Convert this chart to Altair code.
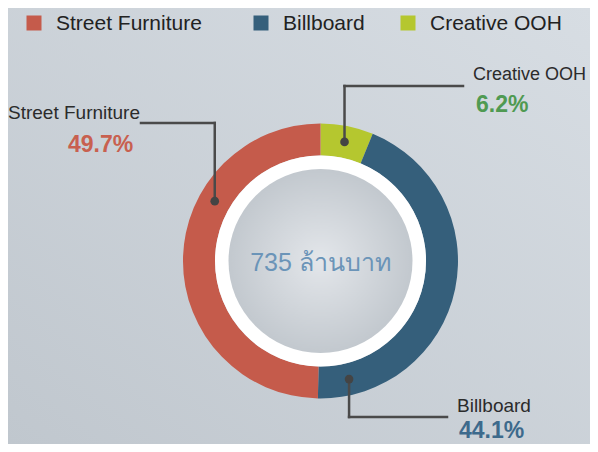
import math
import altair as alt
import pandas as pd

# ---------------- data ----------------
categories = ["Creative OOH", "Billboard", "Street Furniture"]
shares = [6.2, 44.1, 49.7]
seg_colors = ["#b5c72f", "#355f7b", "#c55b4b"]
pct_colors = ["#4f9a52", "#3d6a8c", "#c8604f"]
legend_order = ["Street Furniture", "Billboard", "Creative OOH"]
center_label = "735 ล้านบาท"

# ---------------- layout (pixels inside the chart) ----------------
W, H = 582, 436
CX, CY = 312.5, 253.0
R_OUT, R_IN, R_WHITE, R_CORE = 137.5, 105.5, 105.5, 92.0
FONT = "Liberation Sans, Arial, Noto Sans, sans-serif"
FULL = 2 * math.pi

# callout geometry per category: dot angle (deg, clockwise from top), elbow y, line end x,
# label anchor (+font size), percentage anchor
callout = {
    "Creative OOH":     dict(ang=11.4,  elbow_y=78,  end_x=455, lx=465, ly=58,  fs=18, px=468, py=85.5),
    "Billboard":        dict(ang=166.4, elbow_y=409, end_x=439, lx=449, ly=389, fs=19, px=451, py=412),
    "Street Furniture": dict(ang=299.5, elbow_y=115, end_x=133, lx=0,   ly=95.5, fs=19, px=60,  py=125.5),
}
legend_x = {"Street Furniture": 26, "Billboard": 253, "Creative OOH": 400}
LEGEND_Y = 15
R_DOT = 121.5

pct_of = dict(zip(categories, shares))

seg_df = pd.DataFrame({"category": categories, "share": shares,
                       "idx": list(range(len(categories)))})

# ---------------- background ----------------
bg = alt.Chart(pd.DataFrame({"a": [0]})).mark_rect(
    fill=alt.LinearGradient(
        gradient="linear", x1=1, y1=0, x2=0, y2=1,
        stops=[alt.GradientStop(offset=0, color="#d7dde3"),
               alt.GradientStop(offset=1, color="#c0c7ce")]),
    strokeWidth=0,
).encode(x=alt.value(0), x2=alt.value(W), y=alt.value(0), y2=alt.value(H))

# ---------------- donut ----------------
donut = alt.Chart(seg_df).mark_arc(
    radius=R_OUT, radius2=R_IN, x=CX, y=CY, strokeWidth=0
).encode(
    theta=alt.Theta("share:Q", stack=True),
    order=alt.Order("idx:Q"),
    color=alt.Color("category:N",
                    scale=alt.Scale(domain=categories, range=seg_colors),
                    legend=None),
)

one = pd.DataFrame({"v": [1]})
white = alt.Chart(one).mark_arc(radius=R_WHITE, radius2=0, x=CX, y=CY,
                                fill="#ffffff", strokeWidth=0).encode(
    theta=alt.value(0), theta2=alt.value(FULL))
core = alt.Chart(one).mark_arc(
    radius=R_CORE, radius2=0, x=CX, y=CY, strokeWidth=0,
    fill=alt.RadialGradient(
        gradient="radial", x1=0.5, y1=0.5, x2=0.5, y2=0.5, r1=0, r2=0.5,
        stops=[alt.GradientStop(offset=0, color="#e3e6ea"),
               alt.GradientStop(offset=1, color="#c2c8ce")]),
).encode(theta=alt.value(0), theta2=alt.value(FULL))

center_txt = alt.Chart(pd.DataFrame({"t": [center_label]})).mark_text(
    x=CX, y=CY + 2, font=FONT, fontSize=25, color="#6b94b8", align="center",
    baseline="middle", fontWeight=300,
).encode(text="t:N")

# ---------------- callouts ----------------
rows_seg, rows_dot, rows_lab, rows_pct = [], [], [], []
for cat in categories:
    c = callout[cat]
    a = math.radians(c["ang"])
    dx = CX + R_DOT * math.sin(a)
    dy = CY - R_DOT * math.cos(a)
    rows_dot.append({"x": dx, "y": dy})
    rows_seg.append({"x": dx, "y": dy, "x2": dx, "y2": c["elbow_y"]})
    rows_seg.append({"x": dx, "y": c["elbow_y"], "x2": c["end_x"], "y2": c["elbow_y"]})
    rows_lab.append({"x": c["lx"], "y": c["ly"], "t": cat, "fs": c["fs"]})
    rows_pct.append({"x": c["px"], "y": c["py"], "t": f"{pct_of[cat]:.1f}%", "cat": cat})

lines = alt.Chart(pd.DataFrame(rows_seg)).mark_rule(
    color="#4a4a4a", strokeWidth=2.5, strokeCap="square"
).encode(
    x=alt.X("x:Q", scale=None, axis=None), y=alt.Y("y:Q", scale=None, axis=None),
    x2="x2:Q", y2="y2:Q",
)
dots = alt.Chart(pd.DataFrame(rows_dot)).mark_point(
    shape="circle", filled=True, color="#444444", size=75, opacity=1
).encode(x=alt.X("x:Q", scale=None), y=alt.Y("y:Q", scale=None))

labels = alt.Chart(pd.DataFrame(rows_lab)).mark_text(
    font=FONT, color="#2b2b2b", align="left", baseline="top"
).encode(x=alt.X("x:Q", scale=None), y=alt.Y("y:Q", scale=None), text="t:N",
         size=alt.Size("fs:Q", scale=None, legend=None))

pcts = alt.Chart(pd.DataFrame(rows_pct)).mark_text(
    font=FONT, fontSize=23, fontWeight="bold", align="left", baseline="top"
).encode(
    x=alt.X("x:Q", scale=None), y=alt.Y("y:Q", scale=None), text="t:N",
    color=alt.Color("cat:N", scale=alt.Scale(domain=categories, range=pct_colors),
                    legend=None),
)

# ---------------- legend (manual) ----------------
leg_df = pd.DataFrame({"cat": legend_order,
                       "x": [legend_x[c] for c in legend_order],
                       "y": [LEGEND_Y] * 3})
leg_df["tx"] = leg_df["x"] + 22
leg_sq = alt.Chart(leg_df).mark_square(size=225, filled=True, opacity=1).encode(
    x=alt.X("x:Q", scale=None), y=alt.Y("y:Q", scale=None),
    color=alt.Color("cat:N", scale=alt.Scale(domain=categories, range=seg_colors),
                    legend=None),
)
leg_tx = alt.Chart(leg_df).mark_text(
    font=FONT, fontSize=21, color="#222222", align="left", baseline="middle", dy=1
).encode(x=alt.X("tx:Q", scale=None), y=alt.Y("y:Q", scale=None), text="cat:N")

chart = alt.layer(
    bg, donut, white, core, center_txt, lines, dots, labels, pcts, leg_sq, leg_tx
).resolve_scale(color="independent").properties(
    width=W, height=H, padding=0, autosize=alt.AutoSizeParams(type="none")
).configure_view(stroke=None).configure(background="#c9d0d6")

chart.save("out.html", embed_options={"renderer": "svg", "actions": False})
